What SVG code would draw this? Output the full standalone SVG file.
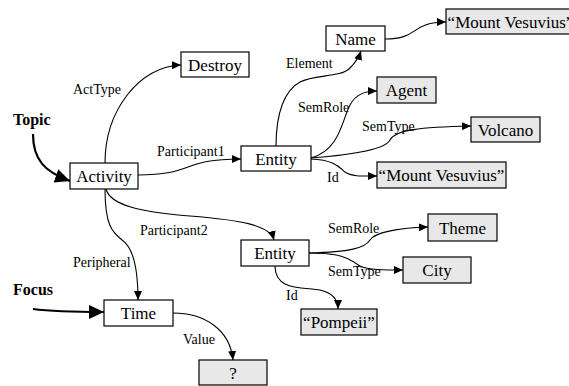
<svg xmlns="http://www.w3.org/2000/svg" width="569" height="386" viewBox="0 0 569 386">
<style>
.box{fill:#ffffff;stroke:#000;stroke-width:1.2}
.val{fill:#e8e8e8;stroke:#000;stroke-width:1.2}
.nt{font-family:"Liberation Serif","Times New Roman",serif;font-size:17px;fill:#000;text-anchor:middle}
.lb{font-family:"Liberation Serif","Times New Roman",serif;font-size:14px;fill:#000}
.bold{font-family:"Liberation Serif","Times New Roman",serif;font-size:16px;font-weight:bold;fill:#000}
.c{fill:none;stroke:#000;stroke-width:1.1;marker-end:url(#ah)}
.big{fill:none;stroke:#000;stroke-width:2.2;marker-end:url(#bh)}
</style>
<defs>
<marker id="ah" markerUnits="userSpaceOnUse" markerWidth="10" markerHeight="8" refX="9" refY="4" orient="auto">
<path d="M0,0 L9,4 L0,8 Z" fill="#000"/>
</marker>
<marker id="bh" markerUnits="userSpaceOnUse" markerWidth="16" markerHeight="14" refX="15" refY="7" orient="auto">
<path d="M0,0 L15,7 L0,14 Z" fill="#000"/>
</marker>
</defs>
<g id="connectors">
<path class="c" d="M105,163 C105,110 140,66 181,65"/>
<path class="c" d="M138,175 C195,175 180,159 241,159"/>
<path class="c" d="M106,189 C110,205 140,212 190,216 C240,220 270,225 274,240"/>
<path class="c" d="M105,189 C105,225 112,232 122,240 C134,248 138,270 138,300"/>
<path class="c" d="M276,146 C276,112 285,90 300,82 C315,74 340,78 350,68 C356,62 359,57 361,51"/>
<path class="c" d="M385,39 C420,39 410,22 446,22"/>
<path class="c" d="M311,158 C340,150 342,120 350,105 C356,94 365,91 377,91"/>
<path class="c" d="M311,158 C350,155 385,150 390,140 C395,130 420,127 471,126"/>
<path class="c" d="M311,159 C335,160 340,168 345,172 C352,177 365,176 377,176"/>
<path class="c" d="M309,253 C350,252 365,248 370,240 C375,232 400,228 428,227"/>
<path class="c" d="M309,253 C345,253 350,260 360,266 C368,270 385,270 403,270"/>
<path class="c" d="M275,266 C275,290 300,287 320,290 C333,293 338,300 338,309"/>
<path class="c" d="M173,313 C205,313 230,330 233,360"/>
<path class="big" d="M33,134 C33,160 45,172 70,181"/>
<path class="big" d="M33,309 C55,312 80,312 104,312"/>
</g>
<g id="topic"><text class="bold" x="13" y="125">Topic</text></g>
<g id="focus"><text class="bold" x="13" y="295">Focus</text></g>
<g id="labels">
<text class="lb" x="73" y="94">ActType</text>
<text class="lb" x="157" y="156">Participant1</text>
<text class="lb" x="140" y="235">Participant2</text>
<text class="lb" x="73" y="267">Peripheral</text>
<text class="lb" x="183" y="344">Value</text>
<text class="lb" x="286" y="68">Element</text>
<text class="lb" x="298" y="112">SemRole</text>
<text class="lb" x="362" y="131">SemType</text>
<text class="lb" x="327" y="182">Id</text>
<text class="lb" x="328" y="233">SemRole</text>
<text class="lb" x="328" y="276">SemType</text>
<text class="lb" x="286" y="300">Id</text>
</g>
<g id="destroy"><rect class="box" x="181" y="52" width="68" height="25"/><text class="nt" x="215" y="71">Destroy</text></g>
<g id="activity"><rect class="box" x="70" y="163" width="68" height="26"/><text class="nt" x="104" y="182">Activity</text></g>
<g id="entity1"><rect class="box" x="241" y="146" width="70" height="25"/><text class="nt" x="276" y="165">Entity</text></g>
<g id="name"><rect class="box" x="326" y="26" width="59" height="25"/><text class="nt" x="355.5" y="45">Name</text></g>
<g id="mv1"><rect class="val" x="446" y="9" width="129" height="25"/><text class="nt" x="510.5" y="28">“Mount Vesuvius”</text></g>
<g id="agent"><rect class="val" x="377" y="77" width="59" height="26"/><text class="nt" x="406.5" y="96">Agent</text></g>
<g id="volcano"><rect class="val" x="471" y="117" width="69" height="25"/><text class="nt" x="505.5" y="136">Volcano</text></g>
<g id="mv2"><rect class="val" x="377" y="162" width="129" height="26"/><text class="nt" x="441.5" y="181">“Mount Vesuvius”</text></g>
<g id="entity2"><rect class="box" x="241" y="240" width="68" height="26"/><text class="nt" x="275" y="259">Entity</text></g>
<g id="theme"><rect class="val" x="428" y="214" width="69" height="27"/><text class="nt" x="462.5" y="234">Theme</text></g>
<g id="city"><rect class="val" x="403" y="257" width="68" height="26"/><text class="nt" x="437" y="276">City</text></g>
<g id="pompeii"><rect class="val" x="301" y="309" width="76" height="26"/><text class="nt" x="339" y="328">“Pompeii”</text></g>
<g id="time"><rect class="box" x="104" y="300" width="69" height="26"/><text class="nt" x="138.5" y="319">Time</text></g>
<g id="unknown"><rect class="val" x="199" y="360" width="68" height="25"/><text class="nt" x="233" y="379">?</text></g>
</svg>
